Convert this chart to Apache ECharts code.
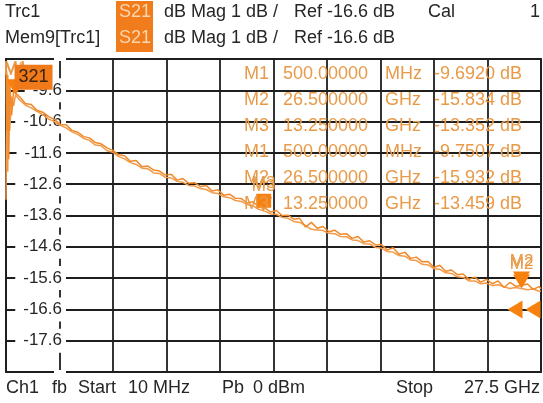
<!DOCTYPE html>
<html><head><meta charset="utf-8">
<script src="https://cdn.jsdelivr.net/npm/echarts@6/dist/echarts.min.js"></script>
<style>html,body{margin:0;padding:0;background:#fff}#c{width:543px;height:403px}</style>
</head><body><div id="c"></div>
<script>
// ---- data ----
const freqGHz = [0.01,0.05,0.1,0.15,0.2,0.3,0.4,0.5,
 0.7,1.0,1.3,1.6,1.9,2.2,2.5,2.8,3.1,3.4,
 3.7,4.0,4.3,4.6,4.9,5.2,5.5,5.8,6.1,6.4,
 6.7,7.0,7.3,7.6,7.9,8.2,8.5,8.8,9.1,9.4,
 9.7,10.0,10.3,10.6,10.9,11.2,11.5,11.8,12.1,12.4,
 12.7,13.0,13.3,13.6,13.9,14.2,14.5,14.8,15.1,15.4,
 15.7,16.0,16.3,16.6,16.9,17.2,17.5,17.8,18.1,18.4,
 18.7,19.0,19.3,19.6,19.9,20.2,20.5,20.8,21.1,21.4,
 21.7,22.0,22.3,22.6,22.9,23.2,23.5,23.8,24.1,24.4,
 24.7,25.0,25.3,25.6,25.9,26.2,26.5,26.8,27.1,27.4,27.5];
const trc1dB = [-8.75,-10.9,-9.1,-11.8,-9.35,-10.4,-9.6,-9.69,
 -9.80,-10.02,-10.05,-10.24,-10.30,-10.44,-10.53,-10.69,-10.70,-10.88,
 -10.94,-11.08,-11.12,-11.27,-11.31,-11.44,-11.52,-11.66,-11.69,-11.87,
 -11.84,-12.04,-12.02,-12.15,-12.18,-12.31,-12.28,-12.47,-12.42,-12.57,
 -12.55,-12.68,-12.64,-12.82,-12.78,-12.95,-12.92,-13.05,-13.06,-13.20,
 -13.16,-13.33,-13.35,-13.49,-13.44,-13.60,-13.59,-13.72,-13.69,-13.97,
 -13.82,-14.01,-13.95,-14.12,-14.07,-14.20,-14.18,-14.33,-14.27,-14.45,
 -14.41,-14.54,-14.53,-14.70,-14.63,-14.84,-14.77,-14.97,-14.93,-15.08,
 -15.07,-15.26,-15.19,-15.38,-15.34,-15.49,-15.47,-15.64,-15.57,-15.73,
 -15.64,-15.78,-15.69,-15.90,-15.74,-15.86,-15.834,-15.79,-15.96,-15.87,-15.94];
const mem9dB = [-13.1,-9.0,-12.2,-9.3,-10.9,-9.8,-10.1,-9.75,
 -9.90,-10.07,-10.16,-10.27,-10.38,-10.52,-10.60,-10.72,-10.80,-10.93,
 -11.01,-11.14,-11.20,-11.35,-11.37,-11.53,-11.58,-11.72,-11.79,-11.91,
 -11.97,-12.09,-12.11,-12.24,-12.26,-12.38,-12.40,-12.51,-12.54,-12.64,
 -12.66,-12.74,-12.77,-12.87,-12.90,-13.00,-13.03,-13.12,-13.15,-13.25,
 -13.29,-13.40,-13.46,-13.55,-13.56,-13.66,-13.69,-13.79,-13.82,-13.92,
 -14.04,-14.06,-14.08,-14.17,-14.18,-14.27,-14.28,-14.38,-14.40,-14.50,
 -14.51,-14.62,-14.64,-14.75,-14.77,-14.88,-14.90,-15.02,-15.04,-15.16,
 -15.18,-15.30,-15.32,-15.43,-15.45,-15.56,-15.58,-15.69,-15.69,-15.78,
 -15.76,-15.84,-15.81,-15.88,-15.93,-15.90,-15.932,-15.97,-15.95,-16.02,-16.01];
const markerNames = ['M1','M2','M3'];
const markerFreqGHz = [0.5, 26.5, 13.25];
const markerFreqText = ['500.00000','26.500000','13.250000'];
const markerUnitText = ['MHz','GHz','GHz'];
const trcMarkerdB = [-9.6920, -15.834, -13.352];
const memMarkerdB = [-9.7507, -15.932, -13.459];
const yTickLabels = ['-17.6','-16.6','-15.6','-14.6','-13.6','-12.6','-11.6','-10.6','-9.6'];
const refLevel = -16.6;

// ---- chart ----
const FONT = "'Liberation Sans', Arial, sans-serif";
const TRACE = '#f08a2a', MEMTRACE = '#f29a48', MARK = '#f7810f', TABLE = '#e89a48';
const chart = echarts.init(document.getElementById('c'));

const gtext = (t, x, y, opt) => Object.assign({type:'text', x, y, z:50,
  style: Object.assign({text:t, font:'18px ' + FONT, fill:'#262626', verticalAlign:'middle', align:'left'}, opt||{})});

const graphics = [
  {type:'rect', shape:{x:116, y:1, width:37, height:51}, style:{fill:'#f07c1c'}, z:40},
  gtext('Trc1', 5, 12), gtext('S21', 119, 12, {fill:'#fcd6ae'}),
  gtext('dB Mag', 164, 12), gtext('1 dB /', 231, 12), gtext('Ref -16.6 dB', 294, 12),
  gtext('Cal', 428, 12), gtext('1', 540, 12, {align:'right'}),
  gtext('Mem9[Trc1]', 5, 38), gtext('S21', 119, 38, {fill:'#fcd6ae'}),
  gtext('dB Mag', 164, 38), gtext('1 dB /', 231, 38), gtext('Ref -16.6 dB', 294, 38),
  gtext('Ch1', 6, 388), gtext('fb', 52, 388), gtext('Start', 78, 388), gtext('10 MHz', 128, 388),
  gtext('Pb', 222, 388), gtext('0 dBm', 253, 388), gtext('Stop', 396, 388), gtext('27.5 GHz', 540, 388, {align:'right'})
];
const rowsTrc = markerNames.map((n,i)=>[n, markerFreqText[i], markerUnitText[i], trcMarkerdB[i]]);
const rowsMem = markerNames.map((n,i)=>[n, markerFreqText[i], markerUnitText[i], memMarkerdB[i]]);
const fmtDb = v => { const s = Math.abs(v) < 10 ? v.toFixed(4) : v.toFixed(3); return s + ' dB'; };
rowsTrc.concat(rowsMem).forEach((r, k) => {
  const y = 74 + k * 26;
  const o = {fill: TABLE};
  graphics.push(gtext(r[0], 244, y, o), gtext(r[1], 283, y, o), gtext(r[2], 385, y, o), gtext(fmtDb(r[3]), 434, y, o));
});

const markerSeries = (vals, color, z, isTrc) => ({
  type:'scatter', xAxisIndex:0, yAxisIndex:0, z, clip:false, animation:false,
  data: markerFreqGHz.map((f,i)=> {
    const item = {value:[f, vals[i]], name: markerNames[i]};
    if (isTrc && markerNames[i] === 'M3') { item.symbol = 'rect'; item.symbolSize = [15,14]; item.symbolRotate = 0; }
    return item;
  }),
  symbol:'triangle', symbolRotate:180, symbolSize:[17,14], symbolOffset:[0,-7],
  itemStyle:{color, opacity:1},
  label:{show:true, position:'top', distance:2, formatter: p => p.name, color:TABLE, fontSize:17, fontFamily:FONT}
});

chart.setOption({
  animation:false,
  backgroundColor:'#fff',
  grid:{left:6, right:2, top:59, bottom:31, show:true, borderColor:'#1e1e1e', borderWidth:1.8, backgroundColor:'#fff'},
  xAxis:[
    {type:'value', min:0.01, max:27.5, show:false},
    {type:'value', min:0, max:10, interval:1, position:'bottom', axisLine:{show:false}, axisTick:{show:false}, axisLabel:{show:false},
     splitLine:{show:true, lineStyle:{color:'#1e1e1e', width:1.8}}}
  ],
  yAxis:[
    {type:'value', min:-18.6, max:-8.6, show:false},
    {type:'value', min:0, max:10, interval:1, position:'left', axisLine:{show:false}, axisTick:{show:false},
     splitLine:{show:true, lineStyle:{color:'#1e1e1e', width:1.8}},
     axisLabel:{show:true, inside:true, margin:60, align:'right', color:'#262626', fontSize:17, fontFamily:FONT,
       backgroundColor:'#fff', padding:[2,4,2,8], lineHeight:20,
       formatter: v => yTickLabels[Math.round(v) - 1] || ''}}
  ],
  series:[
    {type:'line', xAxisIndex:0, yAxisIndex:0, data: freqGHz.map((f,i)=>[f, mem9dB[i]]), showSymbol:false, z:3,
     lineStyle:{color:MEMTRACE, width:1.5}},
    {type:'line', xAxisIndex:0, yAxisIndex:0, data: freqGHz.map((f,i)=>[f, trc1dB[i]]), showSymbol:false, z:4,
     lineStyle:{color:TRACE, width:1.5}},
    markerSeries(memMarkerdB, MARK, 5, false),
    markerSeries(trcMarkerdB, MARK, 6, true),
    {type:'scatter', xAxisIndex:0, yAxisIndex:0, z:7, clip:false,
     data:[{value:[markerFreqGHz[0], trcMarkerdB[0]]}],
     symbol:'rect', symbolSize:[38,25], symbolOffset:[18,-16], itemStyle:{color:'#f07a1a', opacity:1},
     label:{show:true, position:'inside', formatter:'321', color:'#3a2410', fontSize:18, fontFamily:FONT}},
    {type:'scatter', xAxisIndex:0, yAxisIndex:0, z:7, clip:false,
     data:[{value:[27.5, refLevel], symbolOffset:[-26,0]}, {value:[27.5, refLevel], symbolOffset:[-8,0]}],
     symbol:'triangle', symbolRotate:90, symbolSize:[18,15], itemStyle:{color:MARK, opacity:1}}
  ],
  graphic: graphics
});
</script></body></html>
